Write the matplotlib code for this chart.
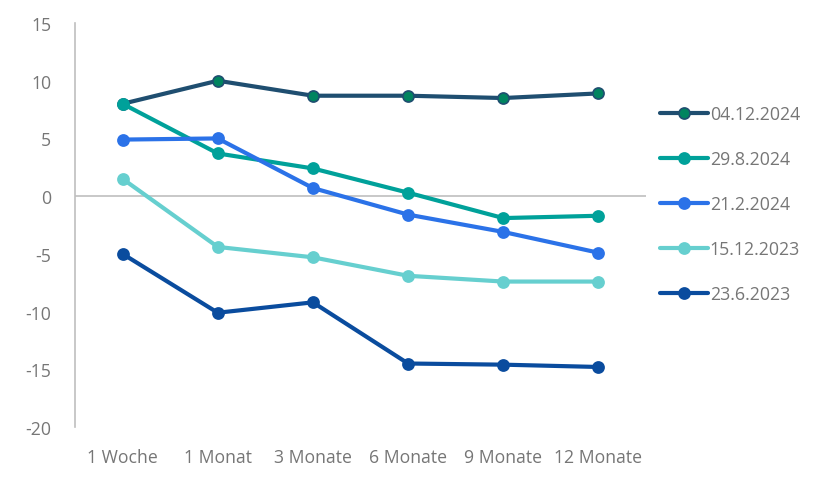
import matplotlib
matplotlib.use("Agg")
import matplotlib.pyplot as plt

categories = ["1 Woche", "1 Monat", "3 Monate", "6 Monate", "9 Monate", "12 Monate"]
series_names = ["04.12.2024", "29.8.2024", "21.2.2024", "15.12.2023", "23.6.2023"]
s_04_12_2024 = [8.0, 10.0, 8.7, 8.7, 8.5, 8.9]
s_29_8_2024 = [8.0, 3.7, 2.4, 0.3, -1.9, -1.7]
s_21_2_2024 = [4.9, 5.0, 0.7, -1.6, -3.1, -4.9]
s_15_12_2023 = [1.5, -4.4, -5.3, -6.9, -7.4, -7.4]
s_23_6_2023 = [-5.0, -10.1, -9.2, -14.5, -14.6, -14.8]
yticks = [15, 10, 5, 0, -5, -10, -15, -20]

series = [s_04_12_2024, s_29_8_2024, s_21_2_2024, s_15_12_2023, s_23_6_2023]
line_colors = ["#1F4E70", "#00A19A", "#2B72E8", "#66CFCF", "#0A4C9E"]
marker_colors = ["#00845F", "#00A19A", "#2B72E8", "#66CFCF", "#0A4C9E"]
edge_colors = ["#1F4E70", "#00A19A", "#2B72E8", "#66CFCF", "#0A4C9E"]

plt.rcParams['font.family'] = ['Open Sans', 'DejaVu Sans']
fig = plt.figure(figsize=(8.2, 4.81), dpi=100)
ax = fig.add_axes([75/820, 1-428/481, (646-75)/820, (428-24)/481])

x = list(range(len(categories)))
handles = []
for vals, name, lc, mc, ec in zip(series, series_names, line_colors, marker_colors, edge_colors):
    h, = ax.plot(x, vals, color=lc, lw=3, marker='o', markersize=8,
                 markerfacecolor=mc, markeredgecolor=ec, markeredgewidth=1.2,
                 label=name, zorder=3, solid_capstyle='round')
    handles.append(h)

ax.axhline(0, color="#BFBFBF", lw=1.2, zorder=1)
ax.set_xlim(-0.5, len(categories) - 0.5)
ax.set_ylim(-20, 15)
ax.set_yticks(yticks)
ax.set_yticklabels([str(v) for v in yticks])
ax.set_xticks(x)
ax.set_xticklabels(categories)
for s in ["top", "right", "bottom"]:
    ax.spines[s].set_visible(False)
ax.spines["left"].set_color("#BFBFBF")
ax.spines["left"].set_linewidth(1.2)
ax.tick_params(axis='y', length=0, pad=17, labelsize=12.7, labelcolor="#767676")
ax.tick_params(axis='x', length=0, pad=15, labelsize=12.7, labelcolor="#767676")

leg = fig.legend(handles=handles, loc='upper left', bbox_to_anchor=(660/820, 1-106/481),
                 frameon=False, fontsize=12.8, labelcolor="#767676",
                 handlelength=2.7, handletextpad=0.1, labelspacing=1.52,
                 borderaxespad=0, borderpad=0)

fig.savefig("out.png", dpi=100, facecolor="white")
